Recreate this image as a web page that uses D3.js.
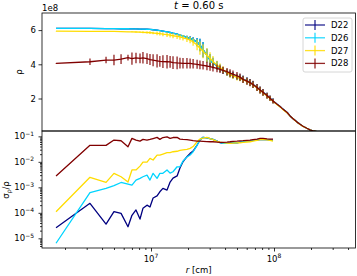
<!DOCTYPE html>
<html>
<head>
<meta charset="utf-8">
<script src="https://cdn.jsdelivr.net/npm/d3@7"></script>
<style>
body { margin: 0; background: #fff; }
svg { font-family: "DejaVu Sans", sans-serif; }
</style>
</head>
<body>
<svg id="chart" width="357" height="276"></svg>
<script>
/** data **/
// radius in units of 1e6 cm
var radius = [1.69, 3.19, 4.31, 5.00, 5.71, 6.50, 7.00, 7.55, 8.14, 8.60, 9.28, 9.81,
  10.4, 11.2, 11.8, 12.5, 13.5, 14.3, 15.1, 16.3, 17.2, 18.2, 19.6, 20.8, 22.0, 23.7,
  25.0, 26.5, 28.5, 30.2, 31.9, 34.4, 36.4, 38.5, 41.5, 43.9, 46.4, 50.0, 52.9, 56.0,
  60.3, 63.8, 67.5, 72.8, 77.0, 81.4, 87.8, 92.8, 98.2, 106, 112, 118, 128, 135, 143,
  154, 163, 172, 185, 196, 207, 224, 237, 251, 270, 285, 302, 319];

// density in units of 1e8
var rhoD22 = [6.10, 6.10, 6.09, 6.09, 6.08, 6.08, 6.07, 6.07, 6.06, 6.06, 6.05, 6.04,
  6.02, 6.00, 5.97, 5.94, 5.90, 5.86, 5.82, 5.77, 5.71, 5.66, 5.58, 5.52, 5.44, 5.30,
  5.13, 4.86, 4.52, 4.25, 4.08, 3.92, 3.77, 3.64,
  3.52, 3.43, 3.36, 3.27, 3.21, 3.13, 3.03, 2.94, 2.82, 2.64, 2.50, 2.36, 2.17, 2.02, 1.86,
  1.66, 1.53, 1.38, 1.18, 0.98, 0.82, 0.62, 0.49, 0.38, 0.26, 0.17, 0.11, 0.06, 0.04,
  0.03, 0.02, 0.015, 0.012, 0.01];
var rhoD26 = [6.10, 6.10, 6.09, 6.09, 6.08, 6.08, 6.07, 6.07, 6.06, 6.06, 6.05, 6.04,
  6.02, 6.00, 5.97, 5.94, 5.90, 5.86, 5.82, 5.77, 5.71, 5.66, 5.58, 5.52, 5.44, 5.30,
  5.13, 4.86, 4.52, 4.25, 4.08, 3.92, 3.77, 3.64,
  3.52, 3.43, 3.36, 3.27, 3.21, 3.13, 3.03, 2.94, 2.82, 2.64, 2.50, 2.36, 2.17, 2.02, 1.86,
  1.66, 1.53, 1.38, 1.18, 0.98, 0.82, 0.62, 0.49, 0.38, 0.26, 0.17, 0.11, 0.06, 0.04,
  0.03, 0.02, 0.015, 0.012, 0.01];
var rhoD27 = [5.94, 5.93, 5.92, 5.92, 5.91, 5.90, 5.90, 5.89, 5.88, 5.87, 5.86, 5.85,
  5.83, 5.81, 5.79, 5.76, 5.73, 5.70, 5.67, 5.63, 5.60, 5.55, 5.48, 5.42, 5.30, 5.13,
  4.94, 4.76, 4.53, 4.35, 4.17, 3.95, 3.82, 3.68,
  3.52, 3.40, 3.32, 3.24, 3.18, 3.10, 3.00, 2.92, 2.80, 2.62, 2.48, 2.34, 2.15, 2.00, 1.84,
  1.64, 1.51, 1.36, 1.16, 0.97, 0.81, 0.61, 0.48, 0.37, 0.26, 0.17, 0.11, 0.06, 0.04,
  0.03, 0.02, 0.015, 0.012, 0.01];
var rhoD28 = [4.06, 4.15, 4.25, 4.25, 4.30, 4.39, 4.33, 4.37, 4.35, 4.38, 4.33, 4.28,
  4.24, 4.20, 4.17, 4.16, 4.15, 4.14, 4.10, 4.08, 4.07, 4.06, 4.06, 4.05, 4.03, 4.00,
  3.97, 3.94, 3.90, 3.86, 3.82, 3.76, 3.71, 3.65,
  3.57, 3.49, 3.42, 3.33, 3.25, 3.12, 3.02, 2.93, 2.82, 2.64, 2.50, 2.36, 2.17, 2.02, 1.86,
  1.66, 1.53, 1.38, 1.18, 0.98, 0.82, 0.62, 0.49, 0.38, 0.26, 0.17, 0.11, 0.06, 0.04,
  0.03, 0.02, 0.015, 0.012, 0.01];

// relative error sigma_rho/rho (up to r = 1e8 cm)
var relD22 = [2.6e-5, 2.36e-4, 3.6e-5, 1.12e-4, 9.5e-5, 2.85e-5, 8.0e-5, 1.3e-4, 5.7e-5, 1.5e-4, 2.0e-4, 1.7e-4,
  3.8e-4, 4.6e-4, 6.7e-4, 9.1e-4, 7.8e-4, 1.61e-3, 2.3e-3, 2.8e-3, 5.7e-3, 0.0101, 0.0159, 0.0215, 0.0265,
  0.0456, 0.0716, 0.0914, 0.087, 0.082, 0.076, 0.065, 0.057, 0.0532, 0.0532, 0.0546, 0.0556, 0.056, 0.06,
  0.0625, 0.065, 0.067, 0.07, 0.073, 0.075, 0.076, 0.075, 0.073, 0.0716];
var relD26 = [6.4e-6, 6.25e-4, 9.1e-4, 1.17e-3, 1.55e-3, 1.35e-3, 1.23e-3, 1.93e-3, 2.25e-3, 2.6e-3, 3.0e-3, 1.93e-3,
  3.54e-3, 2.25e-3, 3.54e-3, 3.54e-3, 4.8e-3, 3.6e-3, 4.1e-3, 6.4e-3, 6.4e-3, 0.0107, 0.0155, 0.0185, 0.0249,
  0.0456, 0.0716, 0.0914, 0.087, 0.082, 0.076, 0.065, 0.057, 0.0532, 0.0532, 0.0546, 0.0556, 0.056, 0.06,
  0.0625, 0.065, 0.067, 0.07, 0.073, 0.075, 0.076, 0.075, 0.073, 0.0716];
var relD27 = [1.1e-4, 2.47e-3, 1.57e-3, 3.54e-3, 2.6e-3, 1.62e-3, 4.8e-3, 4.8e-3, 6.8e-3, 9.8e-3, 9.8e-3, 0.0137,
  0.0118, 0.0185, 0.0185, 0.0202, 0.0228, 0.0232, 0.0249, 0.026, 0.0283, 0.0296, 0.031, 0.0339, 0.0398,
  0.0614, 0.0784, 0.0858, 0.0914, 0.082, 0.075, 0.0637, 0.0598, 0.057, 0.0546, 0.0532, 0.0546, 0.0556, 0.056,
  0.058, 0.06, 0.0614, 0.065, 0.07, 0.074, 0.076, 0.073, 0.07, 0.065];
var relD28 = [0.00277, 0.0444, 0.0444, 0.0716, 0.0672, 0.039, 0.0835, 0.0716, 0.065, 0.0763, 0.0716, 0.076,
  0.082, 0.091, 0.076, 0.0897, 0.096, 0.0835, 0.09, 0.091, 0.078, 0.076, 0.075, 0.0716, 0.068,
  0.065, 0.065, 0.0637, 0.0625, 0.0614, 0.0614, 0.0598, 0.0582, 0.0582, 0.0598, 0.0614, 0.0637, 0.065, 0.067,
  0.068, 0.07, 0.0716, 0.075, 0.078, 0.0835, 0.0835, 0.08, 0.078, 0.078];

var names = ["D22", "D26", "D27", "D28"];
var colors = ["#000080", "#00d4ff", "#ffdc00", "#800000"];
var rhoTicks = [2, 4, 6];
var title = "t";
var titleRest = " = 0.60 s";

/** layout **/
var svg = d3.select("#chart");
var box = { l: 42, r: 355.5, t: 13, m: 131, b: 248 };
var fs = "8.5px";

var x = d3.scaleLog().domain([Math.pow(10, 6.1138), Math.pow(10, 8.6626)]).range([box.l, box.r]);
var yRho = d3.scaleLinear().domain([1e7, 7e8]).range([box.m, box.t]);
var yRel = d3.scaleLog().domain([Math.pow(10, -5.38), Math.pow(10, -0.79)]).range([box.b, box.m]);

var series = names.map(function(n, k) {
  return { name: n, color: colors[k], rho: [rhoD22, rhoD26, rhoD27, rhoD28][k], rel: [relD22, relD26, relD27, relD28][k] };
});

var isPow10 = function(d) {
  var l = Math.log10(d);
  return Math.abs(l - Math.round(l)) < 1e-6;
};

var defs = svg.append("defs");
defs.append("clipPath").attr("id", "clipTop").append("rect")
  .attr("x", box.l).attr("y", box.t).attr("width", box.r - box.l).attr("height", box.m - box.t);
defs.append("clipPath").attr("id", "clipBot").append("rect")
  .attr("x", box.l).attr("y", box.m).attr("width", box.r - box.l).attr("height", box.b - box.m);

/** upper panel: density with error bars **/
var gTop = svg.append("g").attr("clip-path", "url(#clipTop)");
series.forEach(function(s) {
  var g = gTop.append("g");
  g.selectAll("line.err")
    .data(s.rel)
    .enter()
    .append("line")
    .attr("class", "err")
    .attr("x1", function(d, i) { return x(radius[i] * 1e6); })
    .attr("x2", function(d, i) { return x(radius[i] * 1e6); })
    .attr("y1", function(d, i) { var v = s.rho[i] * 1e8; return yRho(v - d * v); })
    .attr("y2", function(d, i) { var v = s.rho[i] * 1e8; return yRho(v + d * v); })
    .attr("stroke", s.color)
    .attr("stroke-width", 1.5)
    .attr("stroke-opacity", 0.75);
  g.append("path")
    .attr("d", d3.line()
      .x(function(d, i) { return x(radius[i] * 1e6); })
      .y(function(d) { return yRho(d * 1e8); })(s.rho))
    .attr("fill", "none")
    .attr("stroke", s.color)
    .attr("stroke-width", 1.3)
    .attr("stroke-linejoin", "round");
});

/** lower panel: relative error **/
var gBot = svg.append("g").attr("clip-path", "url(#clipBot)");
series.forEach(function(s) {
  gBot.append("path")
    .attr("d", d3.line()
      .x(function(d, i) { return x(radius[i] * 1e6); })
      .y(function(d) { return yRel(d); })(s.rel))
    .attr("fill", "none")
    .attr("stroke", s.color)
    .attr("stroke-width", 1.3)
    .attr("stroke-linejoin", "round");
});

/** axes **/
var noDomain = function(g) { g.select(".domain").remove(); };

// upper y
var gyTop = svg.append("g").attr("transform", "translate(" + box.l + ",0)")
  .call(d3.axisLeft(yRho).tickValues(rhoTicks.map(function(d) { return d * 1e8; }))
    .tickSize(3.5).tickPadding(2.5).tickFormat(function(d) { return d / 1e8; }))
  .call(noDomain);
gyTop.selectAll("text").attr("font-size", fs).attr("font-family", "DejaVu Sans").attr("fill", "#000");
svg.append("text").attr("x", box.l).attr("y", 10.5).attr("font-size", fs).text("1e8");

// lower y
var relTicks = yRel.ticks();
var relMajor = relTicks.filter(isPow10);
var relMinor = relTicks.filter(function(d) { return !isPow10(d); });
svg.append("g").attr("transform", "translate(" + box.l + ",0)")
  .call(d3.axisLeft(yRel).tickValues(relMinor).tickSize(2).tickFormat(""))
  .call(noDomain);
svg.append("g").attr("transform", "translate(" + box.l + ",0)")
  .call(d3.axisLeft(yRel).tickValues(relMajor).tickSize(3.5).tickFormat(""))
  .call(noDomain);
relMajor.forEach(function(d) {
  var t = svg.append("text").attr("x", 34).attr("y", yRel(d) + 3)
    .attr("text-anchor", "end").attr("font-size", fs);
  t.append("tspan").text("10");
  t.append("tspan").attr("dy", -3.6).attr("font-size", "6px").text("\u2212" + Math.round(-Math.log10(d)));
});

// lower x
var xTicks = x.ticks();
var xMajor = xTicks.filter(isPow10);
var xMinor = xTicks.filter(function(d) { return !isPow10(d); });
svg.append("g").attr("transform", "translate(0," + box.b + ")")
  .call(d3.axisBottom(x).tickValues(xMinor).tickSize(2).tickFormat(""))
  .call(noDomain);
svg.append("g").attr("transform", "translate(0," + box.b + ")")
  .call(d3.axisBottom(x).tickValues(xMajor).tickSize(3.5).tickFormat(""))
  .call(noDomain);
xMajor.forEach(function(d) {
  var t = svg.append("text").attr("x", x(d)).attr("y", 262)
    .attr("text-anchor", "middle").attr("font-size", fs);
  t.append("tspan").text("10");
  t.append("tspan").attr("dy", -3.6).attr("font-size", "6px").text(Math.round(Math.log10(d)));
});

svg.selectAll(".tick line").attr("stroke", "#000").attr("stroke-width", 0.8);

// frames
[[box.t, box.m], [box.m, box.b]].forEach(function(p) {
  svg.append("rect").attr("x", box.l).attr("y", p[0])
    .attr("width", box.r - box.l).attr("height", p[1] - p[0])
    .attr("fill", "none").attr("stroke", "#000").attr("stroke-width", 0.8);
});

// labels
svg.append("text").attr("transform", "translate(21.5,72) rotate(-90)")
  .attr("text-anchor", "middle").attr("font-size", fs).text("\u03c1");
var yl = svg.append("text").attr("transform", "translate(9,190) rotate(-90)")
  .attr("text-anchor", "middle").attr("font-size", fs);
yl.append("tspan").text("\u03c3");
yl.append("tspan").attr("dy", 2).attr("font-size", "6px").text("\u03c1");
yl.append("tspan").attr("dy", -2).text("/\u03c1");

var xl = svg.append("text").attr("x", (box.l + box.r) / 2).attr("y", 273)
  .attr("text-anchor", "middle").attr("font-size", fs);
xl.append("tspan").attr("font-style", "italic").text("r");
xl.append("tspan").text(" [cm]");

var tt = svg.append("text").attr("x", (box.l + box.r) / 2).attr("y", 9)
  .attr("text-anchor", "middle").attr("font-size", "10px");
tt.append("tspan").attr("font-style", "italic").text(title);
tt.append("tspan").text(titleRest);

/** legend **/
var lg = svg.append("g").attr("transform", "translate(303,18)");
lg.append("rect").attr("width", 49).attr("height", 54).attr("rx", 2)
  .attr("fill", "#fff").attr("fill-opacity", 0.8).attr("stroke", "#ccc").attr("stroke-width", 0.8);
series.forEach(function(s, k) {
  var ly = 7 + k * 12.8;
  var h = lg.append("g").attr("stroke", s.color).attr("stroke-width", 1.3).attr("stroke-opacity", 0.85);
  h.append("line").attr("x1", 2).attr("x2", 22).attr("y1", ly).attr("y2", ly);
  h.append("line").attr("x1", 12).attr("x2", 12).attr("y1", ly - 5).attr("y2", ly + 5);
  lg.append("text").attr("x", 28).attr("y", ly + 3).attr("font-size", fs).text(s.name);
});
</script>
</body>
</html>
